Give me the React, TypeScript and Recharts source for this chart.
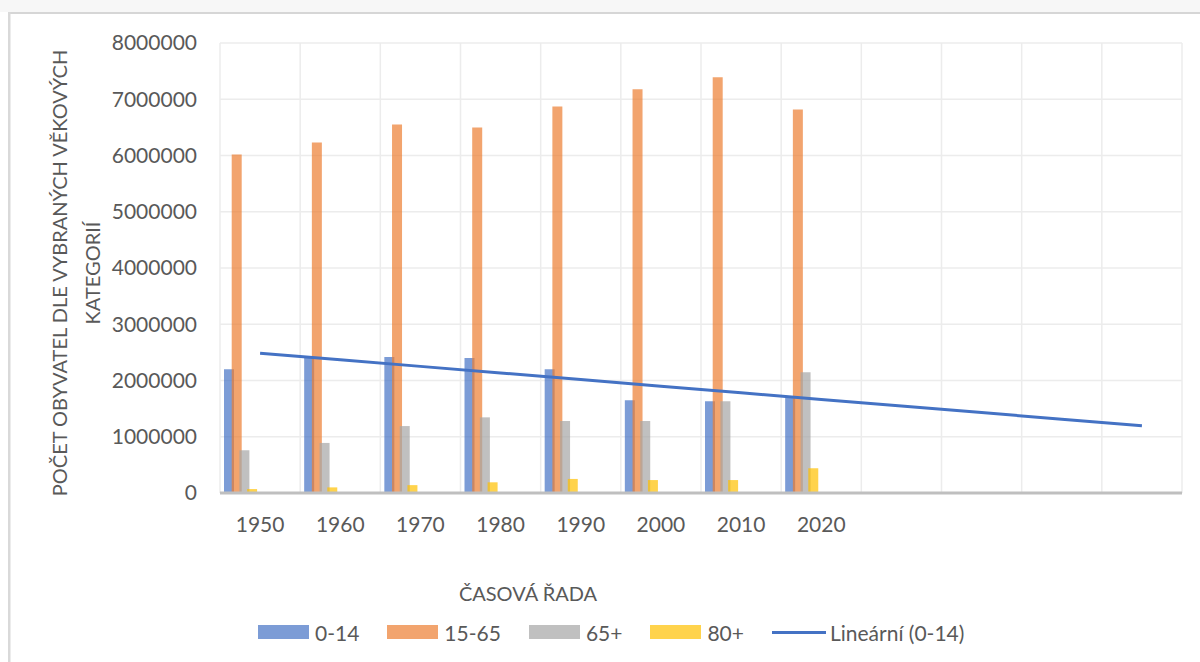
import React from 'react';
import { ComposedChart, Bar, Line, XAxis, YAxis, CartesianGrid } from 'recharts';

const categories = ['1950', '1960', '1970', '1980', '1990', '2000', '2010', '2020', '', '', '', ''];
const age0_14 = [2200000, 2400000, 2420000, 2400000, 2200000, 1650000, 1630000, 1700000];
const age15_65 = [6020000, 6230000, 6550000, 6500000, 6870000, 7180000, 7390000, 6820000];
const age65plus = [760000, 890000, 1190000, 1345000, 1280000, 1280000, 1630000, 2145000];
const age80plus = [70000, 100000, 140000, 190000, 250000, 230000, 230000, 440000];
const yTicks = [0, 1000000, 2000000, 3000000, 4000000, 5000000, 6000000, 7000000, 8000000];

const seriesNames = ['0-14', '15-65', '65+', '80+'];
const seriesColors = ['#4472C4', '#ED7D31', '#A5A5A5', '#FFC000'];
const trendName = 'Lineární (0-14)';
const yTitleLines = ['POČET OBYVATEL DLE VYBRANÝCH VĚKOVÝCH', 'KATEGORIÍ'];
const xTitle = 'ČASOVÁ ŘADA';

// Excel-like linear trendline (least squares) of the 0-14 series, extended over all categories
const n = age0_14.length;
const meanX = (n - 1) / 2;
const meanY = age0_14.reduce((a, b) => a + b, 0) / n;
let sxy = 0;
let sxx = 0;
age0_14.forEach((v, i) => {
  sxy += (i - meanX) * (v - meanY);
  sxx += (i - meanX) * (i - meanX);
});
const slope = sxy / sxx;
const intercept = meanY - slope * meanX;

const data = categories.map((c, i) => ({
  cat: c,
  a: age0_14[i],
  b: age15_65[i],
  c65: age65plus[i],
  d: age80plus[i],
  trend: intercept + slope * i,
}));

const FONT = 'Lato, "Open Sans", sans-serif';
const TEXT = '#595959';
const CHART_W = 1200;
const CHART_H = 662;

export default function App() {
  return (
    <div style={{ position: 'absolute', left: 0, top: 0, width: CHART_W, height: CHART_H, background: '#fff', fontFamily: FONT }}>
      <ComposedChart
        width={CHART_W}
        height={CHART_H}
        data={data}
        margin={{ top: 43, right: 18, left: 0, bottom: 109 }}
        barSize={10}
        barGap={-2.3}
      >
        <CartesianGrid
          stroke="#ececec"
          strokeWidth={1.5}
          verticalCoordinatesGenerator={({ offset }: any) =>
            Array.from({ length: categories.length + 1 }, (_, i) => offset.left + (i * offset.width) / categories.length)
          }
        />
        <XAxis
          dataKey="cat"
          height={60}
          tickLine={false}
          tickSize={0}
          tickMargin={24}
          axisLine={{ stroke: '#bfbfbf', strokeWidth: 3 }}
          tick={{ fill: TEXT, fontSize: 21, fontFamily: FONT }}
          interval={0}
        />
        <YAxis
          width={220}
          domain={[0, 8000000]}
          ticks={yTicks}
          tickLine={false}
          tickSize={0}
          tickMargin={23}
          axisLine={false}
          tick={{ fill: TEXT, fontSize: 21, fontFamily: FONT }}
          tickFormatter={(v: number) => String(v)}
        />
        <Bar dataKey="a" fill={seriesColors[0]} fillOpacity={0.7} isAnimationActive={false} />
        <Bar dataKey="b" fill={seriesColors[1]} fillOpacity={0.7} isAnimationActive={false} />
        <Bar dataKey="c65" fill={seriesColors[2]} fillOpacity={0.7} isAnimationActive={false} />
        <Bar dataKey="d" fill={seriesColors[3]} fillOpacity={0.7} isAnimationActive={false} />
        <Bar dataKey="e1" isAnimationActive={false} />
        <Bar dataKey="e2" isAnimationActive={false} />
        <Bar dataKey="e3" isAnimationActive={false} />
        <Bar dataKey="e4" isAnimationActive={false} />
        <Bar dataKey="e5" isAnimationActive={false} />
        <Line
          dataKey="trend"
          stroke="#4472C4"
          strokeWidth={3}
          dot={false}
          activeDot={false}
          isAnimationActive={false}
        />
      </ComposedChart>

      <svg
        width={CHART_W}
        height={CHART_H}
        style={{ position: 'absolute', left: 0, top: 0, pointerEvents: 'none' }}
      >
        <rect x={0} y={0} width={CHART_W} height={12} fill="#f7f7f7" />
        <rect x={8} y={12} width={CHART_W - 8} height={2} fill="#d6d6d6" />
        <rect x={8} y={12} width={2.5} height={CHART_H - 12} fill="#d9d9d9" />
        <text x={67} y={273} transform="rotate(-90 67 273)" textAnchor="middle" fill={TEXT} fontSize={20} fontFamily={FONT}>
          {yTitleLines[0]}
        </text>
        <text x={100} y={273} transform="rotate(-90 100 273)" textAnchor="middle" fill={TEXT} fontSize={20} fontFamily={FONT}>
          {yTitleLines[1]}
        </text>
        <text x={528} y={601} textAnchor="middle" fill={TEXT} fontSize={20} fontFamily={FONT}>
          {xTitle}
        </text>
      </svg>

      <div
        style={{
          position: 'absolute',
          left: 258,
          top: 618,
          height: 28,
          display: 'flex',
          alignItems: 'center',
          gap: 28,
          fontFamily: FONT,
          fontSize: 21,
          color: TEXT,
          whiteSpace: 'nowrap',
        }}
      >
        {seriesNames.map((name, i) => (
          <div key={name} style={{ display: 'flex', alignItems: 'center' }}>
            <div style={{ width: 51, height: 14, background: seriesColors[i], opacity: 0.7, marginRight: 6 }} />
            <span>{name}</span>
          </div>
        ))}
        <div style={{ display: 'flex', alignItems: 'center' }}>
          <div style={{ width: 54, height: 3, background: '#4472C4', marginRight: 4 }} />
          <span>{trendName}</span>
        </div>
      </div>
    </div>
  );
}
